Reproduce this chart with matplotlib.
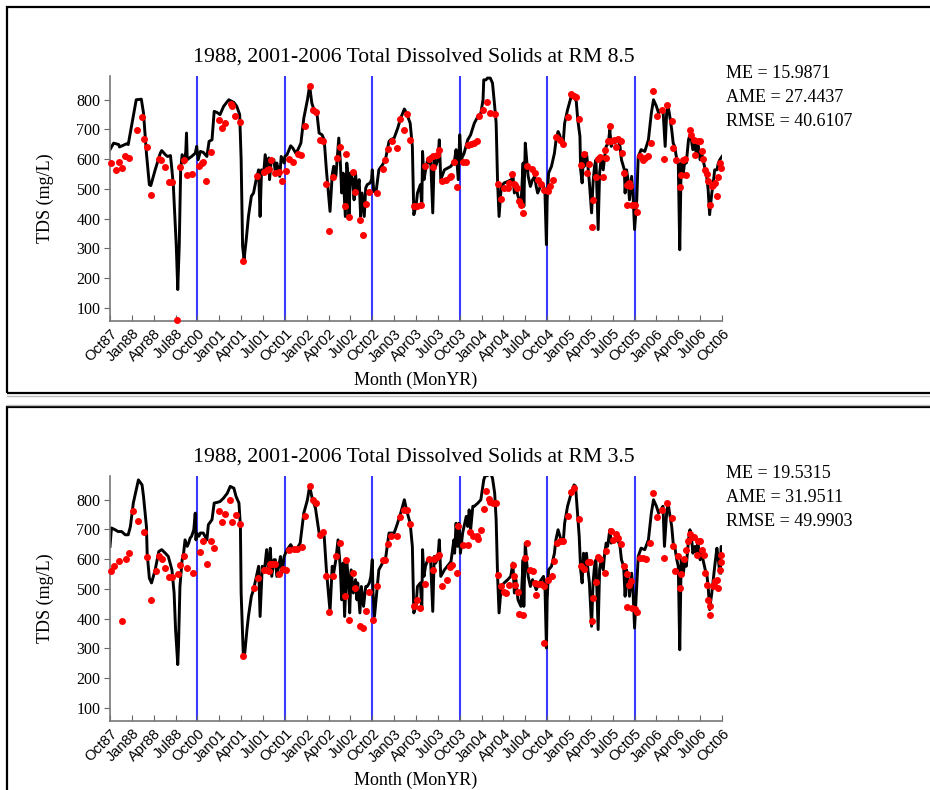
import matplotlib
matplotlib.use("Agg")
import matplotlib.pyplot as plt
from matplotlib.patches import Rectangle
from matplotlib.lines import Line2D

# x = months along the (compressed) axis, Oct87 = 0 ... Oct06 = 84
tick_labels = ["Oct87", "Jan88", "Apr88", "Jul88", "Oct00", "Jan01", "Apr01", "Jul01",
               "Oct01", "Jan02", "Apr02", "Jul02", "Oct02", "Jan03", "Apr03", "Jul03",
               "Oct03", "Jan04", "Apr04", "Jul04", "Oct04", "Jan05", "Apr05", "Jul05",
               "Oct05", "Jan06", "Apr06", "Jul06", "Oct06"]
year_breaks = [12, 24, 36, 48, 60, 72]

titles = ["1988, 2001-2006 Total Dissolved Solids at RM 8.5",
          "1988, 2001-2006 Total Dissolved Solids at RM 3.5"]
stats = [["ME = 15.9871", "AME = 27.4437", "RMSE = 40.6107"],
         ["ME = 19.5315", "AME = 31.9511", "RMSE = 49.9903"]]

# simulated TDS (mg/L), RM 8.5
model_rm85 = [
    (0.0, 632), (0.5, 654), (1.2, 649), (1.3, 641), (2.3, 652), (2.5, 649), (3.6, 800), (4.3, 802),
    (4.6, 755), (5.0, 620), (5.4, 514), (5.6, 511), (6.2, 564), (6.9, 620), (7.1, 629), (7.6, 615),
    (7.9, 609), (8.3, 612), (8.5, 564), (8.7, 508), (9.1, 306), (9.3, 161), (9.5, 306), (9.7, 564),
    (9.9, 615), (10.2, 587), (10.4, 626), (10.5, 688), (10.6, 598), (10.9, 604), (11.2, 609),
    (11.7, 620), (11.9, 643), (12.1, 598), (12.4, 626), (12.8, 623), (13.3, 609), (13.6, 660),
    (14.0, 665), (14.3, 761), (14.7, 757), (15.1, 750), (15.6, 778), (16.3, 800), (17.0, 791),
    (17.4, 778), (17.8, 750), (18.0, 598), (18.2, 306), (18.4, 262), (18.7, 329), (19.0, 407),
    (19.4, 475), (19.7, 486), (20.1, 536), (20.4, 564), (20.6, 407), (20.8, 564), (21.1, 553),
    (21.3, 615), (21.6, 564), (21.8, 604), (21.9, 531), (22.1, 587), (22.5, 598), (22.7, 553),
    (22.9, 587), (23.3, 542), (23.5, 609), (23.9, 587), (24.0, 609), (24.3, 615), (24.8, 645),
    (25.1, 637), (25.5, 620), (25.8, 632), (26.2, 654), (26.6, 738), (27.1, 800), (27.4, 847),
    (27.7, 789), (28.0, 766), (28.4, 755), (28.7, 688), (29.1, 682), (29.4, 665), (29.7, 564),
    (30.2, 424), (30.5, 548), (30.7, 576), (31.0, 542), (31.2, 609), (31.4, 671), (31.6, 598),
    (31.8, 486), (32.0, 553), (32.3, 407), (32.5, 587), (32.7, 542), (32.8, 407), (33.0, 553),
    (33.3, 531), (33.5, 463), (33.7, 553), (33.9, 486), (34.2, 531), (34.4, 407), (34.6, 486),
    (34.9, 407), (35.1, 503), (35.3, 514), (35.7, 520), (35.9, 531), (36.0, 564), (36.2, 492),
    (36.5, 486), (36.9, 564), (37.4, 581), (37.8, 598), (38.3, 660), (38.5, 665), (39.0, 671),
    (39.5, 705), (39.9, 738), (40.4, 769), (40.7, 755), (41.2, 721), (41.5, 643), (41.7, 413),
    (42.0, 441), (42.2, 486), (42.6, 514), (42.8, 441), (42.9, 626), (43.1, 531), (43.4, 576),
    (43.6, 598), (43.8, 587), (44.0, 609), (44.3, 419), (44.5, 609), (44.7, 576), (45.0, 598),
    (45.2, 665), (45.4, 531), (45.9, 564), (46.8, 576), (47.3, 598), (47.5, 632), (47.8, 531),
    (48.0, 682), (48.2, 598), (48.6, 620), (49.1, 665), (49.5, 682), (50.0, 721), (50.5, 744),
    (50.9, 755), (51.2, 800), (51.3, 867), (51.6, 867), (51.8, 873), (52.2, 873), (52.5, 856),
    (52.8, 778), (53.0, 721), (53.2, 520), (53.4, 407), (53.7, 508), (54.1, 520), (54.6, 525),
    (55.1, 531), (55.3, 548), (55.5, 486), (55.7, 508), (56.0, 475), (56.2, 463), (56.4, 441),
    (56.7, 587), (56.8, 441), (57.0, 654), (57.3, 564), (57.4, 542), (57.7, 508), (58.0, 531),
    (58.3, 542), (58.5, 508), (58.7, 486), (58.9, 497), (59.2, 520), (59.5, 508), (59.7, 486),
    (59.9, 312), (60.0, 463), (60.2, 553), (60.6, 576), (61.0, 620), (61.2, 660), (61.5, 693),
    (61.7, 682), (61.9, 665), (62.2, 654), (62.4, 721), (62.8, 766), (63.3, 811), (63.7, 811),
    (64.0, 794), (64.2, 733), (64.5, 677), (64.6, 564), (64.8, 520), (65.0, 620), (65.1, 576),
    (65.4, 620), (65.6, 576), (65.8, 520), (66.1, 419), (66.3, 520), (66.5, 576), (66.7, 598),
    (67.0, 363), (67.2, 553), (67.4, 598), (67.7, 564), (67.9, 609), (68.1, 643), (68.4, 654),
    (68.6, 699), (68.8, 643), (69.0, 665), (69.3, 654), (69.7, 671), (70.0, 643), (70.2, 598),
    (70.6, 564), (70.7, 486), (70.9, 564), (71.1, 531), (71.3, 463), (71.6, 542), (71.8, 475),
    (72.0, 363), (72.3, 463), (72.5, 609), (72.9, 632), (73.4, 626), (73.9, 665), (74.3, 755),
    (74.6, 800), (75.0, 778), (75.3, 755), (75.6, 766), (75.9, 766), (76.2, 643), (76.4, 755),
    (76.6, 778), (76.8, 750), (77.1, 699), (77.3, 654), (77.5, 643), (77.8, 598), (78.0, 587),
    (78.2, 295), (78.4, 587), (78.7, 553), (78.9, 598), (79.1, 587), (79.4, 665), (79.6, 682),
    (79.8, 665), (80.0, 632), (80.3, 649), (80.5, 609), (80.7, 654), (81.0, 598), (81.2, 620),
    (81.4, 598), (81.7, 564), (81.9, 542), (82.1, 497), (82.3, 413), (82.6, 486), (82.8, 520),
    (83.0, 564), (83.3, 564), (83.5, 587), (83.7, 598), (84.0, 609)]

# measured TDS (mg/L), RM 8.5
obs_rm85 = [
    (0.2, 587), (0.8, 564), (1.3, 589), (1.6, 570), (2.1, 609), (2.6, 604), (3.7, 699), (4.4, 742),
    (4.6, 669), (5.1, 640), (5.6, 478), (6.7, 601), (7.0, 598), (7.6, 572), (8.1, 522), (8.5, 522),
    (9.2, 57), (9.6, 572), (10.2, 598), (10.6, 545), (11.3, 551), (12.2, 576), (12.6, 587),
    (12.8, 592), (13.2, 525), (13.8, 623), (14.9, 733), (15.4, 705), (15.8, 721), (16.6, 785),
    (16.8, 778), (17.2, 744), (17.8, 724), (18.2, 258), (20.2, 542), (21.2, 558), (21.6, 564),
    (21.8, 567), (22.1, 596), (22.6, 555), (23.2, 558), (23.6, 527), (24.2, 561), (24.5, 600),
    (25.1, 589), (25.8, 617), (26.2, 614), (26.7, 710), (27.4, 845), (27.8, 764), (28.3, 760),
    (28.8, 665), (29.2, 662), (29.7, 517), (30.1, 357), (30.6, 539), (31.1, 603), (31.5, 641),
    (32.2, 443), (32.4, 618), (32.8, 404), (33.3, 557), (33.6, 491), (34.3, 395), (34.7, 343),
    (35.2, 449), (35.6, 488), (36.6, 486), (37.5, 568), (37.8, 597), (38.2, 634), (38.7, 662),
    (39.4, 637), (39.8, 735), (40.3, 697), (40.8, 753), (41.2, 663), (41.7, 441), (42.1, 441),
    (42.7, 446), (43.3, 576), (43.8, 600), (44.3, 573), (44.4, 609), (44.9, 615), (45.2, 632),
    (45.6, 525), (46.1, 531), (46.6, 540), (46.8, 542), (47.2, 592), (47.6, 506), (48.5, 592),
    (48.9, 592), (49.2, 649), (49.5, 651), (49.9, 654), (50.4, 660), (50.6, 746), (51.2, 764),
    (51.7, 792), (52.2, 757), (52.8, 752), (53.2, 515), (53.7, 465), (54.1, 503), (54.6, 503),
    (54.8, 520), (55.2, 551), (55.4, 517), (55.6, 513), (55.8, 503), (56.2, 458), (56.4, 446),
    (56.7, 419), (57.2, 578), (57.9, 567), (58.3, 553), (58.7, 531), (59.2, 517), (59.5, 497),
    (60.1, 494), (60.4, 511), (60.8, 531), (61.2, 673), (61.7, 665), (62.2, 652), (62.8, 742),
    (63.3, 819), (63.7, 813), (64.0, 809), (64.4, 736), (64.6, 581), (65.0, 618), (65.5, 553),
    (65.8, 582), (66.1, 370), (66.3, 461), (66.7, 540), (67.0, 600), (67.2, 607), (67.7, 540),
    (67.9, 632), (68.1, 603), (68.3, 662), (68.6, 710), (68.8, 660), (69.2, 665), (69.5, 641),
    (69.7, 668), (70.1, 660), (70.3, 620), (70.6, 553), (71.0, 514), (71.2, 520), (71.4, 511),
    (70.9, 444), (71.6, 447), (72.0, 444), (72.3, 422), (72.7, 609), (73.2, 596), (73.4, 604),
    (73.8, 609), (74.2, 654), (74.5, 828), (75.1, 746), (75.7, 764), (76.1, 600), (76.5, 783),
    (77.1, 729), (77.3, 637), (77.7, 598), (78.2, 506), (78.4, 548), (78.7, 598), (78.9, 600),
    (79.1, 548), (79.6, 699), (79.8, 680), (80.2, 665), (80.3, 615), (80.7, 660), (81.0, 660),
    (81.2, 629), (81.4, 600), (81.7, 564), (81.9, 550), (82.1, 525), (82.3, 444), (82.6, 508),
    (82.8, 514), (83.0, 520), (83.3, 475), (83.5, 540), (83.7, 587), (83.9, 570)]

# simulated TDS (mg/L), RM 3.5
model_rm35 = [
    (0.0, 643), (0.2, 705), (0.7, 699), (1.1, 693), (1.6, 693), (2.1, 682), (2.5, 682), (2.8, 710),
    (3.2, 789), (3.6, 834), (3.9, 867), (4.4, 850), (4.6, 811), (5.0, 710), (5.1, 620), (5.4, 536),
    (5.7, 520), (6.2, 564), (6.7, 626), (7.1, 632), (7.6, 620), (8.0, 609), (8.5, 564), (8.8, 486),
    (9.0, 362), (9.3, 245), (9.4, 306), (9.6, 508), (9.9, 598), (10.1, 620), (10.3, 665),
    (10.6, 643), (10.8, 654), (11.0, 671), (11.2, 677), (11.5, 699), (11.7, 755), (11.8, 665),
    (11.9, 688), (12.2, 677), (12.4, 688), (12.8, 688), (13.3, 665), (13.5, 716), (14.0, 733),
    (14.3, 789), (14.7, 791), (15.1, 794), (15.6, 806), (16.1, 822), (16.5, 845), (17.0, 839),
    (17.3, 811), (17.7, 789), (17.9, 710), (18.0, 486), (18.3, 273), (18.5, 284), (18.8, 363),
    (19.0, 407), (19.4, 475), (19.7, 497), (20.1, 542), (20.4, 576), (20.6, 407), (20.9, 576),
    (21.2, 564), (21.5, 632), (21.8, 553), (22.0, 637), (22.2, 542), (22.5, 598), (22.7, 598),
    (22.9, 542), (23.4, 609), (23.6, 553), (23.9, 609), (24.3, 632), (24.8, 649), (25.2, 632),
    (25.7, 637), (26.1, 654), (26.6, 755), (27.1, 800), (27.4, 845), (27.8, 800), (28.2, 772),
    (28.7, 688), (29.1, 682), (29.4, 677), (29.7, 564), (30.2, 424), (30.5, 576), (30.7, 553),
    (31.0, 598), (31.3, 665), (31.6, 576), (31.8, 463), (32.0, 587), (32.2, 407), (32.5, 587),
    (32.7, 542), (32.9, 419), (33.1, 564), (33.4, 486), (33.7, 531), (33.9, 463), (34.0, 520),
    (34.3, 419), (34.5, 508), (34.8, 441), (35.1, 508), (35.3, 508), (35.6, 520), (35.8, 542),
    (36.0, 598), (36.1, 486), (36.3, 407), (36.6, 486), (36.9, 564), (37.4, 587), (37.8, 598),
    (38.3, 688), (38.5, 688), (39.0, 688), (39.4, 716), (39.9, 755), (40.4, 800), (40.7, 766),
    (41.2, 721), (41.5, 643), (41.7, 419), (42.0, 441), (42.2, 508), (42.6, 520), (42.8, 430),
    (42.9, 632), (43.1, 542), (43.3, 576), (43.6, 598), (44.0, 598), (44.3, 424), (44.5, 609),
    (44.7, 587), (45.0, 604), (45.2, 665), (45.4, 542), (45.9, 564), (46.3, 576), (46.8, 592),
    (47.2, 665), (47.3, 620), (47.5, 721), (47.7, 643), (47.9, 721), (48.1, 620), (48.4, 688),
    (48.9, 744), (49.1, 710), (49.3, 766), (49.5, 699), (49.8, 778), (50.0, 778), (50.5, 789),
    (50.9, 800), (51.3, 867), (51.5, 881), (51.8, 881), (52.2, 890), (52.5, 873), (52.8, 822),
    (53.0, 733), (53.2, 542), (53.4, 419), (53.7, 508), (54.1, 520), (54.6, 531), (55.0, 542),
    (55.3, 587), (55.5, 486), (55.7, 531), (56.0, 463), (56.2, 452), (56.4, 441), (56.7, 598),
    (56.8, 441), (57.0, 654), (57.2, 587), (57.4, 542), (57.7, 508), (58.0, 531), (58.5, 497),
    (58.7, 508), (58.9, 520), (59.2, 531), (59.5, 542), (59.7, 508), (59.9, 301), (60.0, 463),
    (60.2, 564), (60.6, 576), (61.0, 620), (61.2, 665), (61.5, 699), (61.9, 665), (62.2, 654),
    (62.4, 721), (62.8, 778), (63.3, 822), (63.7, 850), (63.9, 845), (64.2, 744), (64.4, 677),
    (64.6, 564), (64.8, 520), (65.0, 620), (65.1, 576), (65.4, 620), (65.6, 564), (65.8, 520),
    (66.1, 374), (66.3, 520), (66.5, 576), (66.7, 598), (67.0, 363), (67.2, 564), (67.4, 598),
    (67.7, 564), (67.9, 620), (68.1, 654), (68.3, 643), (68.6, 699), (68.8, 654), (69.0, 665),
    (69.3, 660), (69.7, 665), (70.0, 643), (70.2, 598), (70.5, 576), (70.7, 475), (70.9, 564),
    (71.1, 531), (71.3, 475), (71.6, 553), (71.8, 486), (72.0, 368), (72.2, 463), (72.5, 609),
    (72.9, 637), (73.4, 632), (73.9, 665), (74.3, 755), (74.6, 800), (75.0, 778), (75.3, 755),
    (75.6, 766), (75.9, 778), (76.1, 643), (76.4, 755), (76.6, 789), (76.8, 755), (77.1, 710),
    (77.3, 654), (77.5, 643), (77.8, 598), (78.0, 576), (78.2, 295), (78.4, 598), (78.7, 553),
    (78.9, 598), (79.1, 576), (79.4, 665), (79.6, 699), (79.8, 677), (80.0, 620), (80.3, 643),
    (80.5, 620), (80.7, 654), (81.0, 598), (81.2, 620), (81.4, 598), (81.7, 564), (81.9, 553),
    (82.1, 508), (82.3, 430), (82.6, 486), (82.8, 531), (83.0, 576), (83.3, 637), (83.5, 598),
    (83.7, 553), (83.9, 643), (84.0, 553)]

# measured TDS (mg/L), RM 3.5
obs_rm35 = [
    (0.1, 561), (0.6, 578), (1.2, 595), (1.6, 393), (2.2, 600), (2.6, 620), (3.2, 763), (3.8, 727),
    (4.7, 690), (5.1, 606), (5.6, 461), (6.3, 561), (6.7, 612), (7.2, 600), (7.6, 570), (8.1, 540),
    (8.5, 540), (9.3, 550), (9.6, 581), (10.2, 609), (10.6, 570), (11.4, 555), (12.3, 623),
    (12.7, 660), (13.3, 583), (13.8, 660), (14.3, 637), (14.9, 763), (15.4, 724), (15.8, 752),
    (16.5, 798), (16.8, 724), (17.3, 750), (17.8, 719), (18.2, 275), (19.7, 503), (20.3, 536),
    (21.1, 564), (21.6, 564), (21.8, 561), (22.0, 583), (22.2, 583), (22.6, 583), (23.2, 550),
    (23.7, 567), (24.2, 564), (24.6, 632), (25.2, 634), (25.7, 634), (26.3, 641), (26.7, 744),
    (27.4, 848), (27.8, 800), (28.3, 789), (28.8, 682), (29.3, 693), (29.7, 544), (30.1, 421),
    (30.6, 544), (31.0, 609), (31.5, 654), (32.2, 475), (32.4, 596), (32.8, 395), (33.3, 555),
    (33.6, 504), (34.3, 376), (34.7, 367), (35.2, 427), (35.6, 488), (36.1, 396), (36.6, 511),
    (37.5, 598), (37.8, 596), (38.2, 651), (38.6, 679), (39.4, 677), (39.8, 742), (40.3, 766),
    (40.7, 764), (41.2, 719), (41.7, 443), (42.1, 463), (42.6, 435), (43.3, 516), (43.8, 601),
    (44.3, 564), (44.5, 601), (44.9, 607), (45.2, 615), (45.6, 511), (46.2, 531), (46.7, 573),
    (47.0, 581), (47.6, 553), (47.8, 710), (48.4, 649), (49.1, 649), (49.4, 690), (49.8, 677),
    (50.4, 677), (50.5, 668), (50.9, 699), (51.4, 769), (51.6, 828), (52.0, 802), (52.2, 794),
    (52.5, 789), (53.0, 789), (53.2, 548), (53.7, 508), (54.1, 491), (54.4, 486), (54.7, 514),
    (55.3, 581), (55.5, 542), (55.6, 514), (56.0, 491), (56.2, 416), (56.7, 413), (56.9, 604),
    (57.2, 654), (57.6, 564), (58.0, 561), (58.3, 520), (58.5, 480), (58.7, 517), (59.2, 517),
    (59.5, 511), (59.6, 318), (60.1, 531), (60.6, 544), (60.9, 595), (61.3, 654), (61.7, 660),
    (62.2, 662), (62.8, 746), (63.3, 825), (63.7, 839), (64.4, 735), (64.7, 576), (65.1, 568),
    (65.6, 589), (65.9, 589), (66.1, 391), (66.3, 469), (66.7, 522), (67.0, 606), (67.3, 600),
    (67.9, 553), (68.1, 629), (68.7, 696), (69.0, 665), (69.4, 686), (69.7, 671), (70.1, 651),
    (70.5, 578), (70.9, 550), (71.3, 514), (71.5, 525), (70.9, 438), (71.6, 435), (72.0, 432),
    (72.3, 421), (72.7, 604), (73.1, 604), (73.6, 600), (74.1, 654), (74.5, 822), (75.1, 742),
    (75.8, 766), (76.1, 604), (76.5, 789), (77.2, 738), (77.3, 643), (77.5, 559), (78.0, 609),
    (78.2, 503), (78.4, 551), (78.8, 600), (79.0, 632), (79.4, 660), (79.6, 686), (79.9, 674),
    (80.2, 673), (80.5, 615), (80.7, 660), (81.0, 662), (81.2, 632), (81.5, 613), (81.7, 553),
    (81.9, 514), (82.1, 463), (82.3, 443), (82.3, 413), (82.7, 508), (82.9, 514), (83.1, 525),
    (83.3, 531), (83.5, 503), (83.7, 564), (83.9, 615), (83.9, 592)]

serif = "Liberation Serif"
sans = "Liberation Sans"

W, H = 930, 790
fig = plt.figure(figsize=(9.3, 7.9), dpi=100)

# panel frames around each figure
for top, bottom in [(7, 393), (407, 800)]:
    fig.add_artist(Rectangle((7 / W, 1 - bottom / H), 1.0, (bottom - top) / H,
                             transform=fig.transFigure, fill=False, ec="black", lw=1.6))
fig.add_artist(Line2D([7 / W, 1], [1 - 396 / H] * 2, transform=fig.transFigure, color="#bbbbbb", lw=1))
fig.add_artist(Line2D([7 / W, 1], [1 - 405 / H] * 2, transform=fig.transFigure, color="#bbbbbb", lw=1))

panels = [(model_rm85, obs_rm85), (model_rm35, obs_rm35)]
for i, (model, obs) in enumerate(panels):
    off = 400 * i
    ax = fig.add_axes([110 / W, 1 - (321 + off) / H, 612 / W, 245 / H])

    mt, mv = zip(*model)
    ot, ov = zip(*obs)
    for xb in year_breaks:
        ax.axvline(xb, color="#3a3aff", lw=1.5, zorder=1)
    ax.plot(mt, mv, color="black", lw=2.1, zorder=2)
    ax.plot(ot, ov, "o", color="red", ms=4.0, mec="red", zorder=3, clip_on=False)

    ax.set_xlim(0, 84)
    ax.set_ylim(55, 880)
    ax.set_xticks(range(0, 85, 3))
    ax.set_xticklabels(tick_labels, rotation=45, ha="right", rotation_mode="anchor",
                       fontsize=10.5, family=sans)
    ax.set_yticks(range(100, 801, 100))
    for lab in ax.get_yticklabels():
        lab.set_family(serif)
        lab.set_fontsize(11.5)
    ax.tick_params(axis="x", direction="in", length=4, color="#666666", pad=4)
    ax.tick_params(axis="y", direction="out", length=4, color="#666666", pad=3)
    for side in ["top", "right"]:
        ax.spines[side].set_visible(False)
    for side in ["left", "bottom"]:
        ax.spines[side].set_color("#777777")
        ax.spines[side].set_linewidth(1.2)

    fig.text(414 / W, 1 - (57 + off) / H, titles[i], ha="center", va="center",
             family=serif, fontsize=15.6)
    fig.text(45 / W, 1 - (198 + off) / H, "TDS (mg/L)", rotation=90, ha="center", va="center",
             family=serif, fontsize=13)
    fig.text(416 / W, 1 - (380 + off) / H, "Month (MonYR)", ha="center", va="center",
             family=serif, fontsize=13)
    for k, s in enumerate(stats[i]):
        fig.text(726 / W, 1 - (73 + 24 * k + off) / H, s, ha="left", va="center",
                 family=serif, fontsize=13)

fig.savefig("out.png", dpi=100)
